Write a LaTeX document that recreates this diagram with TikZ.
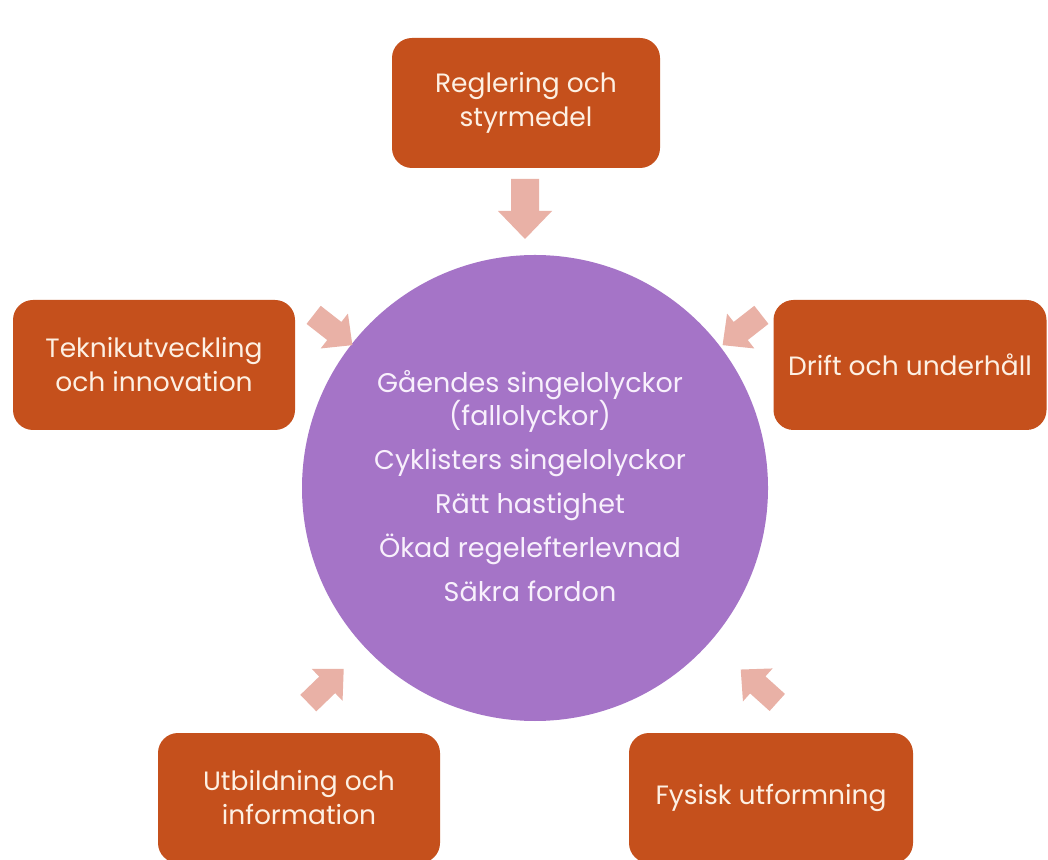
\documentclass[tikz,border=0pt]{standalone}
\usepackage{fontspec}
\setmainfont{Poppins}
\definecolor{boxc}{HTML}{C5501C}
\definecolor{circc}{HTML}{A574C7}
\definecolor{arrc}{HTML}{E9B1A6}
\definecolor{boxtxt}{HTML}{FDF0E3}
\definecolor{circtxt}{HTML}{F8F0FC}
\begin{document}
\begin{tikzpicture}[x=1pt,y=1pt,
  box/.style={draw=none, fill=boxc, rounded corners=20pt, minimum height=130pt,
    text=boxtxt, font=\fontsize{26.5}{34}\selectfont, align=center, inner sep=0pt},
  inarrow/.style={fill=arrc, draw=none},
  pics/blockarrow/.style={code={
    \fill[inarrow] (-30,-14) -- (2,-14) -- (2,-27) -- (30,0) -- (2,27) -- (2,14) -- (-30,14) -- cycle;}}]
\useasboundingbox (0,0) rectangle (1048,859);
\clip (0,0) rectangle (1048,859);
\fill[white] (0,0) rectangle (1048,859);

\node[circle, fill=circc, minimum size=466pt, inner sep=0pt] (hub) at (535,371) {};
\node[text=circtxt, font=\fontsize{27}{32}\selectfont, align=center] (hubtext) at (530,373)
  {Gåendes singelolyckor\\(fallolyckor)\\[12pt]Cyklisters singelolyckor\\[12pt]Rätt hastighet\\[12pt]Ökad regelefterlevnad\\[12pt]Säkra fordon};

\node[box, minimum width=268pt] (reg) at (526,756) {Reglering och\\styrmedel};
\node[box, minimum width=282pt] (tek) at (154,494) {Teknikutveckling\\och innovation};
\node[box, minimum width=273pt] (drift) at (910,494) {Drift och underhåll};
\node[box, minimum width=282pt] (utb) at (299,61) {Utbildning och\\information};
\node[box, minimum width=284pt] (fys) at (771,61) {Fysisk utformning};

\pic[rotate=-90] (a1) at (525,650) {blockarrow};
\pic[rotate=-38, scale=0.82] (a2) at (333,529) {blockarrow};
\pic[rotate=-142, scale=0.82] (a3) at (742,529) {blockarrow};
\pic[rotate=44, scale=0.82] (a4) at (326,173) {blockarrow};
\pic[rotate=138, scale=0.82] (a5) at (759,173) {blockarrow};
\end{tikzpicture}
\end{document}
